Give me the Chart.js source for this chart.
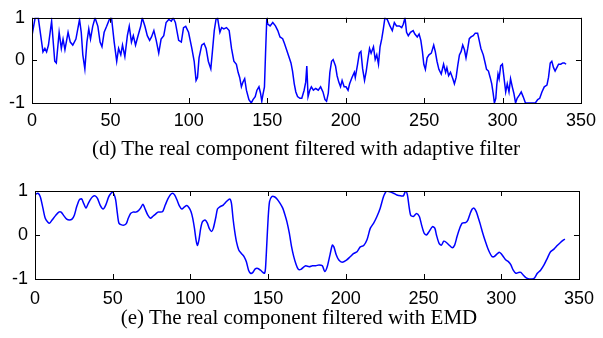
<!DOCTYPE html>
<html>
<head>
<meta charset="utf-8">
<script src="https://cdn.jsdelivr.net/npm/chart.js@4/dist/chart.umd.min.js"></script>
<style>
  html, body { margin: 0; padding: 0; background: #fff; }
  #wrap { position: relative; width: 603px; height: 338px; overflow: hidden; }
  .cv { position: absolute; left: 0; }
  .cap { position: absolute; white-space: nowrap; font-family: "Liberation Serif", "Times New Roman", serif;
         color: #000; transform: translateX(-50%); font-size: 21px; line-height: 21px; }
</style>
</head>
<body>
<div id="wrap">
  <canvas id="c1" class="cv" width="603" height="150" style="top:0px"></canvas>
  <canvas id="c2" class="cv" width="603" height="150" style="top:170px"></canvas>
  <div class="cap" id="cap1" style="left:306px; top:138px;">(d) The real component filtered with adaptive filter</div>
  <div class="cap" id="cap2" style="left:299px; top:307px;">(e) The real component filtered with EMD</div>
</div>
<script>
// ---- data ----
const xTicks = [0, 50, 100, 150, 200, 250, 300, 350];
const yTicks = [-1, 0, 1];

const adaptiveX = [
  0,2,4,7,8.2,9.3,10.5,12.5,14.5,15.5,
  17.3,18.7,19.8,21,23,24.4,26,28,30.3,31.4,
  32.4,33.7,35,36.2,37.3,38.7,40.2,42,43.4,44.6,
  46,47.6,49.3,50.7,52.4,54,55.2,56.6,57.7,59.2,
  60.8,62,63.4,64.6,66,67.6,69.3,70.3,72,73.5,
  75,76.2,77.7,79.2,80.8,82.3,84,85.5,87.2,88.8,
  90,91.4,93.5,95.2,96.6,98,99.8,101.9,103.4,104.6,
  105.5,106.5,108.2,109.7,111,112.4,114,115,116.2,117.3,
  118.3,119.8,120.9,122.3,124,125.7,127.2,128.7,130.3,131.4,
  132.4,133.5,134.5,135.6,136.7,138.3,139.8,140.9,142.3,143.4,
  144.7,145.7,146.5,147.2,148.2,148.9,149.7,150.3,151.8,153.5,
  155.2,156.7,158.1,159.8,160.9,162.3,164,165.1,166.1,167.2,
  168.2,169.3,170.8,172,173.5,174.5,175.2,176,177.1,178.1,
  179.4,180.9,182.5,184,185.5,186.8,187.8,188.9,189.9,191,
  192,193.5,194.5,195.6,196.7,197.7,199,200.2,201.5,202.5,
  204,205.5,206.1,207.6,208.7,209.7,210.8,212,213.1,214.1,
  215.2,216.2,217.7,218.8,219.8,220.9,221.9,223,224,225,
  226.5,228.2,229.7,231,232.4,234.2,235.7,236.7,237.8,238.8,
  239.9,241.3,243,244.1,245.6,246.8,247.9,248.9,249.8,250.8,
  251.9,253.1,254.6,256.1,257.1,258.2,259.4,260.9,262.4,263.7,
  264.5,265.6,266.8,268.3,269.3,270.4,271.4,272.5,273.6,274.6,
  275.7,276.7,277.8,278.8,279.9,281.3,282.6,284.1,285.1,286.2,
  287.7,288.9,289.8,291,292.1,293.1,294,294.8,295.7,296.3,
  297.1,297.8,298.8,299.9,300.9,302,303,304.1,305.1,306.2,
  307.2,308.3,309.3,310.8,311.9,313.1,314.6,316.7,318.8,320.9,
  322.4,323.7,325.1,326.6,328.3,329.3,330.4,331.4,332.5,333.5,
  334.6,335.7,337.1,338.4,339.4,340.5
];
const adaptiveY = [
  0.58,1,1,0.2,0.28,0.2,0.36,0.92,-0.02,-0.06,
  0.66,0.28,0.5,0.25,0.66,0.43,0.36,0.5,0.96,0.66,
  0.13,-0.2,0.43,0.74,0.5,0.8,1,0.8,0.43,0.32,
  0.66,0.8,0.96,1,0.43,-0.02,0.28,0.13,0.36,0.09,
  0.58,0.8,0.43,0.58,0.36,0.58,0.8,1,0.8,0.58,
  0.47,0.55,0.7,0.47,0.17,0.5,0.58,0.89,0.96,0.92,
  1,0.89,0.47,0.43,0.77,0.8,0.66,0.28,-0.02,-0.47,
  -0.4,0.06,0.36,0.4,0.28,-0.02,-0.2,0.2,0.7,0.96,
  1,0.66,0.77,0.74,0.77,0.7,0.28,-0.02,-0.09,-0.28,
  -0.4,-0.62,-0.51,-0.43,-0.7,-0.92,-1,-0.92,-0.85,-0.7,
  -0.62,-0.77,-0.96,-0.81,-0.62,0.17,1,0.85,0.81,0.89,
  0.81,0.7,0.55,0.51,0.4,0.25,0.06,-0.06,-0.25,-0.55,
  -0.74,-0.85,-0.89,-0.89,-0.7,-0.51,-0.13,-0.85,-0.7,-0.62,
  -0.7,-0.66,-0.7,-0.62,-0.74,-0.92,-0.96,-0.77,-0.28,-0.02,
  0.02,-0.13,-0.36,-0.51,-0.62,-0.47,-0.62,-0.62,-0.7,-0.55,
  -0.4,-0.28,-0.4,-0.09,0.17,0.21,-0.2,-0.47,-0.25,0.02,
  0.28,0.17,0.32,0.02,0.13,-0.09,0.32,0.51,0.74,1,
  0.96,0.81,0.7,0.89,0.81,0.81,0.77,0.85,1,0.66,
  0.58,0.66,0.7,0.62,0.55,0.62,0.47,0.21,-0.09,-0.21,
  0.06,0.13,0.17,0.36,0.21,-0.02,-0.21,-0.32,-0.09,-0.28,
  -0.17,-0.36,-0.28,-0.43,-0.55,-0.4,-0.13,0.13,0.21,0.36,
  0.25,0.06,0.28,0.51,0.55,0.58,0.64,0.64,0.47,0.28,
  0.13,-0.06,-0.21,-0.25,-0.4,-0.55,-0.77,-1,-0.89,-0.58,
  -0.32,-0.43,-0.13,-0.09,-0.4,-0.74,-0.55,-0.74,-0.43,-0.62,
  -0.77,-1,-0.89,-0.81,-0.74,-0.85,-1,-1,-1,-1,
  -0.92,-0.89,-0.74,-0.62,-0.58,-0.4,-0.06,-0.02,-0.17,-0.25,
  -0.17,-0.09,-0.09,-0.06,-0.06,-0.09
];

const emdX = [
  0,1.9,3.4,5.1,6.6,8.3,9.4,11,13.2,15.3,
  16.8,18.5,20.4,22.1,23.8,25.3,26.8,28.5,30,31.3,
  32.8,34.3,35.5,37,38.7,40.2,41.9,43.8,45.5,47.2,
  48.3,49.8,50.9,51.9,53,54,55.7,57.7,58.9,60,
  61.5,63,64.7,66.4,67.9,69.4,71.1,72.6,74.3,75.7,
  77.4,79.1,80.6,82.1,83.8,85.5,87,88.5,89.8,91.3,
  92.8,94.5,96.2,97.7,99.1,100.4,101.5,102.6,103.6,104.5,
  105.5,106.6,107.7,109.4,110.9,112.1,113.6,114.7,116.2,117.4,
  118.9,121.1,123.2,125.3,126.4,127.4,128.5,129.6,131.1,132.8,
  134.5,136,137.4,138.7,140.2,141.7,143.4,145.1,146.6,147.7,
  148.3,149.1,150,150.9,152.3,154,155.7,157.7,159.4,160.9,
  162.1,163.6,165.1,166.4,167.9,169.4,171.1,173.2,174.2,176.4,
  178.5,180.6,182.7,184.9,186.4,188,189.8,191.3,192.3,193.8,
  195.5,197.6,200.4,202.9,205.1,207.2,209.3,211.5,213.6,215.7,
  217.9,220,222.1,224.2,225.7,226.4,228.5,230.7,232.8,235.3,
  237,238.5,239.6,240.7,241.7,243.4,245.5,247.3,248.7,250.4,
  251.9,253.6,255.8,257.3,258.3,260,261.5,263,264.7,266.8,
  268.5,270,271.5,273.2,274.9,277,278.5,280,281.3,282.4,
  283.9,285.3,286.6,288.1,289.8,291.3,292.8,294.1,295.5,297,
  298.7,299.8,301.3,303,304.7,306.2,307.7,309.4,311.1,312.6,
  314.1,315.8,317.9,320,321.5,323.2,325.3,327.5,329.6,331.7,
  333.9,336,338.1,340.9
];
const emdY = [
  0.92,0.95,0.87,0.61,0.38,0.29,0.27,0.34,0.44,0.52,
  0.52,0.44,0.36,0.34,0.36,0.45,0.64,0.8,0.82,0.72,
  0.61,0.72,0.8,0.87,0.89,0.83,0.68,0.59,0.68,0.85,
  0.92,0.98,0.92,0.8,0.49,0.27,0.23,0.23,0.27,0.38,
  0.49,0.52,0.52,0.55,0.61,0.7,0.57,0.45,0.38,0.42,
  0.47,0.52,0.52,0.53,0.68,0.82,0.91,0.95,0.91,0.8,
  0.67,0.59,0.64,0.67,0.62,0.53,0.38,0.15,-0.11,-0.24,
  -0.11,0.15,0.3,0.34,0.27,0.15,0.08,0.15,0.38,0.59,
  0.64,0.68,0.76,0.82,0.72,0.38,0.08,-0.15,-0.34,-0.42,
  -0.49,-0.61,-0.8,-0.87,-0.85,-0.77,-0.76,-0.8,-0.85,-0.87,
  -0.76,-0.23,0.38,0.76,0.87,0.87,0.82,0.72,0.61,0.45,
  0.3,0.05,-0.27,-0.48,-0.66,-0.78,-0.78,-0.72,-0.7,-0.72,
  -0.7,-0.7,-0.68,-0.7,-0.83,-0.72,-0.45,-0.23,-0.27,-0.45,
  -0.57,-0.62,-0.57,-0.49,-0.42,-0.38,-0.27,-0.24,-0.11,0.15,
  0.27,0.42,0.61,0.87,0.98,1,0.98,0.95,0.91,0.89,
  0.89,1,0.91,0.64,0.45,0.42,0.49,0.42,0.23,0.04,
  0,0.08,0.19,0.15,0,-0.19,-0.23,-0.14,-0.17,-0.24,
  -0.29,-0.23,-0.04,0.15,0.27,0.28,0.34,0.49,0.59,0.61,
  0.53,0.38,0.23,0.04,-0.15,-0.3,-0.42,-0.49,-0.49,-0.44,
  -0.39,-0.42,-0.49,-0.57,-0.61,-0.68,-0.8,-0.87,-0.85,-0.85,
  -0.91,-0.97,-1,-1,-0.97,-0.87,-0.8,-0.68,-0.53,-0.38,
  -0.32,-0.24,-0.17,-0.09
];

// ---- MATLAB-like box with inward ticks ----
const boxPlugin = {
  id: 'box',
  afterDatasetsDraw(chart) {
    const { ctx, chartArea: a, scales: { x, y } } = chart;
    ctx.save();
    ctx.strokeStyle = '#000';
    ctx.lineWidth = 1;
    ctx.strokeRect(Math.round(a.left) + 0.5, Math.round(a.top) + 0.5,
                   Math.round(a.right - a.left), Math.round(a.bottom - a.top));
    ctx.beginPath();
    const L = 5;
    x.ticks.forEach(t => {
      const px = Math.round(x.getPixelForValue(t.value)) + 0.5;
      ctx.moveTo(px, a.bottom); ctx.lineTo(px, a.bottom - L);
      ctx.moveTo(px, a.top); ctx.lineTo(px, a.top + L);
    });
    y.ticks.forEach(t => {
      const py = Math.round(y.getPixelForValue(t.value)) + 0.5;
      ctx.moveTo(a.left, py); ctx.lineTo(a.left + L, py);
      ctx.moveTo(a.right, py); ctx.lineTo(a.right - L, py);
    });
    ctx.stroke();
    ctx.restore();
  }
};

function makeChart(id, xs, ys, geo, tension) {
  const tickFont = { family: '"Liberation Sans", Arial, sans-serif', size: 18 };
  return new Chart(document.getElementById(id), {
    type: 'line',
    data: {
      datasets: [{
        data: xs.map((v, i) => ({ x: v, y: ys[i] })),
        borderColor: '#0000ff',
        borderWidth: 1.5,
        pointRadius: 0,
        tension: tension,
        fill: false
      }]
    },
    options: {
      responsive: false,
      animation: false,
      devicePixelRatio: 1,
      layout: { padding: { left: 0, right: geo.right, top: geo.top, bottom: 0 } },
      plugins: { legend: { display: false }, tooltip: { enabled: false } },
      scales: {
        x: {
          type: 'linear', min: 0, max: 350,
          afterBuildTicks: s => { s.ticks = xTicks.map(v => ({ value: v })); },
          afterFit: s => { s.height = geo.xh; },
          grid: { display: false, drawTicks: false },
          border: { display: false },
          ticks: { color: '#000', font: tickFont, padding: geo.xpad, maxRotation: 0, autoSkip: false }
        },
        y: {
          type: 'linear', min: -1, max: 1,
          afterBuildTicks: s => { s.ticks = yTicks.map(v => ({ value: v })); },
          afterFit: s => { s.width = geo.yw; },
          grid: { display: false, drawTicks: false },
          border: { display: false },
          ticks: { color: '#000', font: tickFont, padding: 7 }
        }
      }
    },
    plugins: [boxPlugin]
  });
}

makeChart('c1', adaptiveX, adaptiveY, { yw: 32, right: 17, top: 15, xh: 47, xpad: 7 }, 0);
makeChart('c2', emdX, emdY, { yw: 35, right: 19, top: 21, xh: 41, xpad: 9 }, 0.25);
</script>
</body>
</html>
